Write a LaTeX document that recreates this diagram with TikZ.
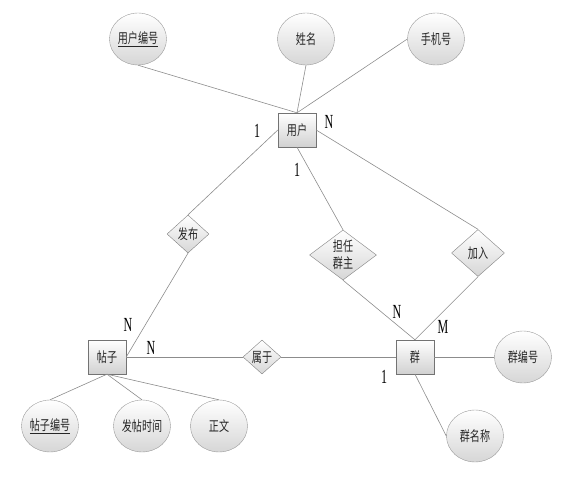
\documentclass[tikz,border=0pt]{standalone}
\usepackage{fontspec}
\newfontfamily\zhfont[FakeStretch=0.72]{Noto Sans CJK SC}
\newfontfamily\cardfont[FakeStretch=0.6]{Liberation Serif}
\usetikzlibrary{shapes.geometric, positioning}

\begin{document}
\begin{tikzpicture}[
  x=1pt, y=-1pt,
  on grid,
  entity/.style={draw=black!55, rectangle, top color=white, bottom color=black!18,
                 font=\zhfont\fontsize{14}{17}\selectfont, text=black!85,
                 minimum width=38pt, minimum height=34pt, inner sep=0pt},
  attr/.style={draw=black!40, ellipse, top color=white, bottom color=black!16,
               font=\zhfont\fontsize{14}{17}\selectfont, text=black!85,
               minimum width=57pt, minimum height=52pt, inner sep=0pt},
  rel/.style={draw=black!50, diamond, top color=white, bottom color=black!16,
              font=\zhfont\fontsize{14}{17}\selectfont, text=black!85, align=center,
              inner sep=0pt},
  link/.style={draw=black!45, line width=0.6pt},
  card/.style={font=\cardfont\fontsize{20}{20}\selectfont, inner sep=0pt}
]
  \useasboundingbox (0,0) rectangle (563,477);

  % entities
  \node[entity] (yonghu) at (297,130) {用户};
  \node[entity] (tiezi) at (107,357) {帖子};
  \node[entity, right=308pt of tiezi] (qun) {群};

  % attributes
  \node[attr, above left=91pt and 159pt of yonghu] (yhbh) {\underline{用户编号}};
  \node[attr, above right=91pt and 9pt of yonghu] (xingming) {姓名};
  \node[attr, above right=91pt and 139pt of yonghu] (shouji) {手机号};
  \node[attr, below left=69pt and 57pt of tiezi] (tzbh) {\underline{帖子编号}};
  \node[attr, below right=69pt and 35pt of tiezi] (fttime) {发帖时间};
  \node[attr, below right=69pt and 112pt of tiezi] (zhengwen) {正文};
  \node[attr, right=108pt of qun] (qunbh) {群编号};
  \node[attr, below right=79pt and 60pt of qun] (qunmc) {群名称};

  % relationships
  \node[rel, minimum width=42pt, minimum height=38pt,
        below left=104pt and 109pt of yonghu] (fabu) {发布};
  \node[rel, minimum width=67pt, minimum height=50pt,
        below right=125pt and 46pt of yonghu] (danren) {担任\\群主};
  \node[rel, minimum width=53pt, minimum height=47pt,
        below right=123pt and 181pt of yonghu] (jiaru) {加入};
  \node[rel, minimum width=38pt, minimum height=34pt,
        right=155pt of tiezi] (shuyu) {属于};

  % links
  \draw[link] (yhbh.south) -- (yonghu.north);
  \draw[link] (xingming.south) -- (yonghu.north);
  \draw[link] (shouji.west) -- (yonghu.north);
  \draw[link] (yonghu.west) -- (fabu.north);
  \draw[link] (fabu.south) -- (tiezi.east);
  \draw[link] (yonghu.south) -- (danren.north);
  \draw[link] (danren.south) -- (qun.north);
  \draw[link] (yonghu.east) -- (jiaru.north);
  \draw[link] (jiaru.south) -- (qun.north);
  \draw[link] (tiezi.east) -- (shuyu.west);
  \draw[link] (shuyu.east) -- (qun.west);
  \draw[link] (qun.east) -- (qunbh.west);
  \draw[link] (qun.south) -- (qunmc.west);
  \draw[link] (tiezi.south) -- (tzbh.north);
  \draw[link] (tiezi.south) -- (fttime.north);
  \draw[link] (tiezi.south) -- (zhengwen.north);

  % cardinalities
  \node[card] (c1) at (257,131) {1};
  \node[card] (c2) at (329,122) {N};
  \node[card] (c3) at (297,170) {1};
  \node[card] (c4) at (128,325) {N};
  \node[card] (c5) at (151,348) {N};
  \node[card] (c6) at (397,312) {N};
  \node[card] (c7) at (443,327) {M};
  \node[card] (c8) at (384,377) {1};
\end{tikzpicture}
\end{document}
